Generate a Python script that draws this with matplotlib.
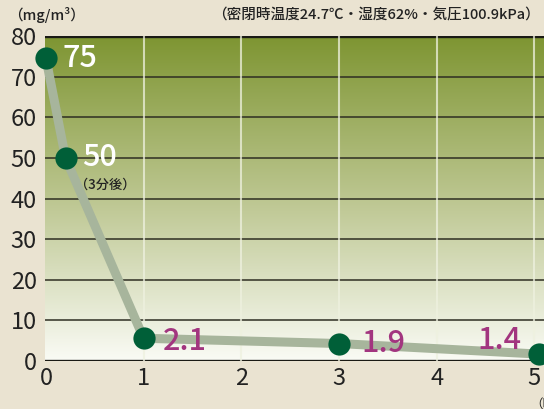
import numpy as np
import matplotlib
matplotlib.use("Agg")
import matplotlib.pyplot as plt
from matplotlib.colors import LinearSegmentedColormap

plt.rcParams['font.family'] = ['Noto Sans CJK JP', 'DejaVu Sans']

# data
hours = [0, 0.2, 1, 3, 5.05]
marker_y = [74.5, 50, 5.6, 4.3, 1.7]
value_labels = ["75", "50", "2.1", "1.9", "1.4"]
y_ticks = [0, 10, 20, 30, 40, 50, 60, 70, 80]
x_ticks = [0, 1, 2, 3, 4, 5]

W, H = 544, 409
fig = plt.figure(figsize=(W / 100, H / 100), dpi=100)
fig.patch.set_facecolor('#EAE3D1')
ax = fig.add_axes([45 / W, (H - 361) / H, 1 - 45 / W, (361 - 36) / H])
x0, x1 = -0.01, 5.1
ax.set_xlim(x0, x1)
ax.set_ylim(0, 80)

# gradient background
cmap = LinearSegmentedColormap.from_list('g', ['#FAFBF5', '#BCC690', '#7E9532'])
grad = np.linspace(0, 1, 256).reshape(-1, 1)
ax.imshow(grad, extent=[x0, x1, 0, 80], origin='lower', aspect='auto',
          cmap=cmap, zorder=0)

for s in ax.spines.values():
    s.set_visible(False)

# grid
for y in y_ticks[1:-1]:
    ax.axhline(y, color='#2E2E22', lw=1.1, zorder=1)
ax.axhline(80, color='#1A1A14', lw=2.4, zorder=1)
ax.axhline(0, color='#1A1A14', lw=2.4, zorder=1)
for x in x_ticks[1:]:
    ax.axvline(x, color='#EEF1DF', lw=1.5, alpha=0.75, zorder=1)

ax.plot(hours, marker_y, color='#A7B59C', lw=6.5, solid_capstyle='round',
        solid_joinstyle='round', zorder=2, clip_on=False)
ax.plot(hours, marker_y, 'o', color='#005F38', ms=16, mec='none', zorder=3,
        clip_on=False)

ax.set_yticks(y_ticks)
ax.set_xticks(x_ticks)
ax.tick_params(length=0, labelsize=17, colors='#222222', pad=4)
ax.tick_params(axis='y', pad=6)

magenta = '#A2357F'
offs = [(12, 0, 'left', 'white'), (12, 0, 'left', 'white'),
        (14, -2, 'left', magenta), (16, 0, 'left', magenta),
        (-13, 10, 'right', magenta)]
for (x, y, t, (dx, dy, ha, c)) in zip(hours, marker_y, value_labels, offs):
    ax.annotate(t, (x, y), xytext=(dx, dy), textcoords='offset points',
                ha=ha, va='center', fontsize=22, fontweight='medium', color=c,
                zorder=4, annotation_clip=False)
ax.annotate('（3分後）', (hours[1], marker_y[1]), xytext=(7, -19),
            textcoords='offset points', ha='left', va='center', fontsize=9.5,
            fontweight='medium', color='#222222', zorder=4)

fig.text(8 / W, 1 - 15 / H, '（mg/m³）', fontsize=10.5, fontweight='medium',
         color='#222222', ha='left', va='center')
fig.text(540 / W, 1 - 15 / H, '（密閉時温度24.7℃・湿度62%・気圧100.9kPa）',
         fontsize=10.5, fontweight='medium', color='#222222', ha='right',
         va='center')
fig.text(530 / W, 1 - 404 / H, '（時間）', fontsize=9, color='#222222',
         ha='left', va='center')

fig.savefig('out.png', dpi=100, facecolor=fig.get_facecolor())
